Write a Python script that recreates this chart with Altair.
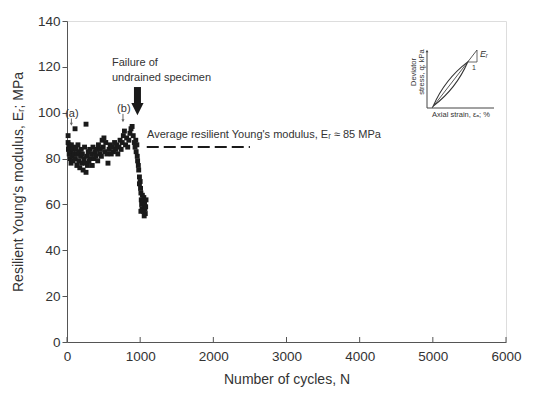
import altair as alt
import pandas as pd

# ---------------- data ----------------
N_cycles = [
    15, 15, 20, 25, 30, 35, 45, 50, 55, 60,
    70, 75, 85, 95, 100, 110, 115, 125, 135, 140,
    150, 160, 165, 175, 185, 195, 200, 210, 220, 230,
    240, 250, 260, 260, 270, 280, 290, 300, 310, 320,
    335, 345, 355, 370, 380, 395, 405, 420, 430, 445,
    455, 470, 480, 495, 505, 515, 530, 545, 560, 575,
    590, 605, 620, 635, 650, 665, 680, 695, 710, 725,
    740, 755, 770, 785, 800, 815, 830, 845, 860, 875,
    890, 905, 920, 930, 940, 945, 955, 960, 965, 975,
    980, 990, 1000, 1005, 1010, 1015, 1020, 1025, 1030, 1040,
    1045, 1050, 1060, 1065, 1070, 1075, 1080, 1010, 1055, 990,
]
E_r = [
    90, 87, 84, 86, 82, 85, 80, 83, 78, 86,
    81, 84, 79, 85, 82, 93, 80, 84, 77, 82,
    86, 79, 83, 76, 81, 84, 78, 82, 75, 80,
    85, 78, 95, 74, 81, 77, 83, 79, 84, 80,
    82, 77, 85, 80, 83, 81, 84, 79, 86, 82,
    84, 81, 88, 85, 89, 83, 87, 82, 78, 84,
    86, 82, 85, 83, 87, 84, 86, 82, 85, 88,
    84, 87, 90, 92, 86, 89, 85, 88, 91, 93,
    94, 90, 87, 85, 88, 83, 86, 81, 79, 77,
    75, 72, 70, 67, 65, 62, 60, 58, 64, 61,
    57, 63, 60, 58, 56, 59, 62, 57, 55, 69,
]
x_ticks = [0, 1000, 2000, 3000, 4000, 5000, 6000]
y_ticks = [0, 20, 40, 60, 80, 100, 120, 140]

avg_E = [85]
avg_from = [1090]
avg_to = [2500]

ann_text = ["(a)", "(b)", "Failure of", "undrained specimen",
            "Average resilient Young's modulus, Eᵣ ≈ 85 MPa"]
ann_N = [-25, 685, 615, 615, 1095]
ann_E = [99.5, 101.8, 121.5, 115.0, 90.3]

arrow_N = [963]
arrow_top = [111.2]
arrow_bot = [104.0]
arrow_head = [101.6]

small_arrow_N = [60, 765]
small_arrow_top = [97.5, 99.5]
small_arrow_bot = [95.0, 96.5]

FONT = "Liberation Sans"
INK = "#1a1a1a"

df = pd.DataFrame({"N": N_cycles, "E": E_r})
xs = alt.Scale(domain=[0, 6000], nice=False)
ys = alt.Scale(domain=[0, 140], nice=False)

base_x = alt.X("N:Q", scale=xs, axis=alt.Axis(
    values=x_ticks, format="d", title="Number of cycles, N", grid=False, ticks=False,
    labelPadding=7, labelFontSize=13.5, labelFont=FONT, labelColor="#333",
    titleFont=FONT, titleFontSize=14, titleFontWeight="normal", titleColor="#333",
    titlePadding=10, domainColor="#555", labelFlush=False))
base_y = alt.Y("E:Q", scale=ys, axis=alt.Axis(
    values=y_ticks, format="d", title="Resilient Young's modulus, Eᵣ; MPa", grid=False,
    tickSize=5, tickColor="#555", labelPadding=2, labelFontSize=13.5,
    labelFont=FONT, labelColor="#333", titleFont=FONT, titleFontSize=14,
    titleFontWeight="normal", titleColor="#333", titlePadding=12,
    domainColor="#555"))

points = alt.Chart(df).mark_square(size=24, color=INK, opacity=1).encode(
    x=base_x, y=base_y)

# inward x ticks
xt = alt.Chart(pd.DataFrame({"N": x_ticks})).mark_rule(color="#555", strokeWidth=1).encode(
    x=alt.X("N:Q", scale=xs), y=alt.value(321), y2=alt.value(316))

avg = alt.Chart(pd.DataFrame({"a": avg_from, "b": avg_to, "E": avg_E})).mark_rule(
    color=INK, strokeWidth=2, strokeDash=[12, 5]).encode(
    x=alt.X("a:Q", scale=xs), x2="b:Q", y=alt.Y("E:Q", scale=ys))

ann = alt.Chart(pd.DataFrame({"N": ann_N, "E": ann_E, "t": ann_text})).mark_text(
    align="left", baseline="middle", font=FONT, fontSize=11, color="#333").encode(
    x=alt.X("N:Q", scale=xs), y=alt.Y("E:Q", scale=ys), text="t:N")

shaft = alt.Chart(pd.DataFrame({"N": arrow_N, "a": arrow_top, "b": arrow_bot})).mark_rule(
    color=INK, strokeWidth=7).encode(
    x=alt.X("N:Q", scale=xs), y=alt.Y("a:Q", scale=ys), y2="b:Q")
head = alt.Chart(pd.DataFrame({"N": arrow_N, "E": arrow_head})).mark_point(
    shape="M -1 -1 L 1 -1 L 0 1 Z", size=150, filled=True, color=INK, opacity=1).encode(
    x=alt.X("N:Q", scale=xs), y=alt.Y("E:Q", scale=ys))

sm_shaft = alt.Chart(pd.DataFrame({"N": small_arrow_N, "a": small_arrow_top, "b": small_arrow_bot})).mark_rule(
    color="#666", strokeWidth=1).encode(
    x=alt.X("N:Q", scale=xs), y=alt.Y("a:Q", scale=ys), y2="b:Q")
sm_head = alt.Chart(pd.DataFrame({"N": small_arrow_N, "E": small_arrow_bot})).mark_point(
    shape="M -1 -1 L 1 -1 L 0 1 Z", size=9, filled=True, color="#666", opacity=1).encode(
    x=alt.X("N:Q", scale=xs), y=alt.Y("E:Q", scale=ys))

# ---------------- inset schematic (hysteresis loop) ----------------
one = pd.DataFrame({"k": [0]})
ix0, iy0 = 67, 21  # plot origin on the page


def px(v):
    return v - ix0


def py(v):
    return v - iy0


inset_axis_y = alt.Chart(one).mark_rule(color="#444", strokeWidth=1).encode(
    x=alt.value(px(427)), y=alt.value(py(108)), y2=alt.value(py(51)))
inset_axis_tip = alt.Chart(one).mark_point(shape="triangle-up", size=8, filled=True,
                                           color="#444", opacity=1).encode(
    x=alt.value(px(427)), y=alt.value(py(51)))
inset_axis_x = alt.Chart(one).mark_rule(color="#444", strokeWidth=1).encode(
    x=alt.value(px(427)), x2=alt.value(px(494)), y=alt.value(py(108)))
loop = alt.Chart(one).mark_point(
    shape="M -1 0 Q 0 0.26 1 0 Q 0 -0.26 -1 0 Z", size=3136, filled=False,
    color="#333", strokeWidth=1.1, opacity=1, angle=308).encode(
    x=alt.value(px(450.5)), y=alt.value(py(84)))
secant = alt.Chart(one).mark_rule(color="#444", strokeWidth=0.9).encode(
    x=alt.value(px(432)), y=alt.value(py(108)), x2=alt.value(px(477)), y2=alt.value(py(50)))
tri_h = alt.Chart(one).mark_rule(color="#444", strokeWidth=0.8).encode(
    x=alt.value(px(468)), x2=alt.value(px(477)), y=alt.value(py(62)))
tri_v = alt.Chart(one).mark_rule(color="#444", strokeWidth=0.8).encode(
    x=alt.value(px(477)), y=alt.value(py(62)), y2=alt.value(py(50)))
t_one = alt.Chart(one).mark_text(text="1", font=FONT, fontSize=7, color="#333").encode(
    x=alt.value(px(474)), y=alt.value(py(68)))
t_er = alt.Chart(one).mark_text(text="Eᵣ", font=FONT, fontSize=9, fontStyle="italic",
                                 color="#333", align="left").encode(
    x=alt.value(px(480)), y=alt.value(py(54)))
t_dev = alt.Chart(one).mark_text(text="Deviator", font=FONT, fontSize=7.5, angle=270,
                                  color="#333").encode(
    x=alt.value(px(414)), y=alt.value(py(72)))
t_str = alt.Chart(one).mark_text(text="stress, q; kPa", font=FONT, fontSize=7.5, angle=270,
                                  color="#333").encode(
    x=alt.value(px(422)), y=alt.value(py(72)))
t_ax = alt.Chart(one).mark_text(text="Axial strain, εₐ; %", font=FONT, fontSize=7.5,
                                 color="#333").encode(
    x=alt.value(px(461)), y=alt.value(py(115)))

chart = alt.layer(
    points, xt, avg, ann, shaft, head, sm_shaft, sm_head,
    inset_axis_y, inset_axis_tip, inset_axis_x, loop, secant, tri_h, tri_v,
    t_one, t_er, t_dev, t_str, t_ax,
).properties(
    width=439, height=321,
    autosize=alt.AutoSizeParams(type="none"),
    padding={"left": 59, "top": 13, "right": 28, "bottom": 47},
).configure_view(stroke=None).configure(background="white")

chart.save("out.html", embed_options={"renderer": "svg", "actions": False})
